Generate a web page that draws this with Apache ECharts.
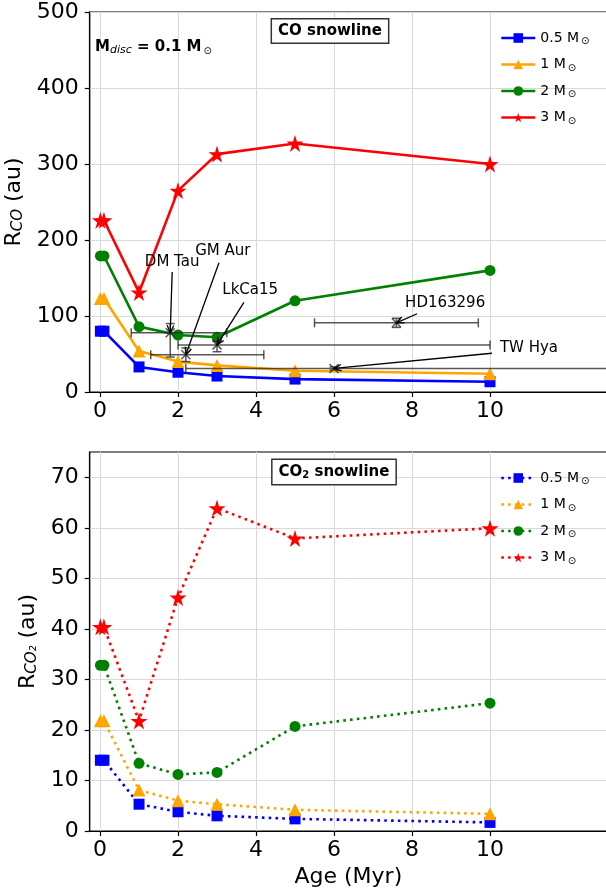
<!DOCTYPE html>
<html><head><meta charset="utf-8">
<script src="https://cdn.jsdelivr.net/npm/echarts@6/dist/echarts.min.js"></script>
<style>html,body{margin:0;padding:0;background:#fff}#c{width:606px;height:893px}</style>
</head><body><div id="c"></div>
<script>
// ---------- data ----------
const ages = [0.01, 0.1, 1, 2, 3, 5, 10];
const massLabels = ['0.5', '1', '2', '3'];
const coR05 = [80, 80, 33, 26, 21, 17, 13.5];
const coR1 = [123, 123, 54, 40, 35, 28, 24];
const coR2 = [179, 179, 86, 75, 72, 120, 160];
const coR3 = [226, 226, 131, 265, 313, 327, 300];
const co2R05 = [14, 14, 5.3, 3.8, 3.0, 2.4, 1.7];
const co2R1 = [21.8, 21.8, 8.1, 6.0, 5.3, 4.2, 3.4];
const co2R2 = [32.8, 32.8, 13.4, 11.2, 11.6, 20.7, 25.3];
const co2R3 = [40.4, 40.4, 21.8, 46.2, 63.9, 57.9, 59.9];
const obsNames = ['DM Tau', 'GM Aur', 'LkCa15', 'HD163296', 'TW Hya'];
const obsAge = [1.8, 2.2, 3.0, 7.6, 6.0];
const obsAgeLo = [0.8, 1.3, 2.0, 5.5, 2.2];
const obsAgeHi = [3.25, 4.2, 10, 9.7, 20];
const obsR = [78, 49, 62, 91, 31];
const obsRLo = [46, 40, 53, 85, 29];
const obsRHi = [90, 58, 67, 97, 33];
const labelX = [1.85, 3.15, 3.85, 8.85, 11.0];
const labelY = [171, 186, 134, 117, 58];
const arrowFromX = [1.85, 3.05, 3.69, 8.13, 10.05];
const arrowFromY = [158, 170, 118, 103, 51];
const xTicks = [0, 2, 4, 6, 8, 10];
const coTicks = [0, 100, 200, 300, 400, 500];
const co2Ticks = [0, 10, 20, 30, 40, 50, 60, 70];

// ---------- styling ----------
const FF = 'DejaVu Sans';
const colors = ['#0000ff', '#ffa500', '#008000', '#ff0000'];
const star = 'path://M50,0 L61,35 L98,35 L68,57 L79,91 L50,70 L21,91 L32,57 L2,35 L39,35 Z';
const symbols = ['rect', 'triangle', 'circle', star];
const sizes = [11, 13, 11, 17];
const coSets = [coR05, coR1, coR2, coR3];
const co2Sets = [co2R05, co2R1, co2R2, co2R3];
const gridColor = '#d9d9d9';

function pairs(ys) { return ages.map((a, i) => [a, ys[i]]); }

const series = [];
// vertical grid lines at the x ticks (both panels)
[0, 1].forEach(gi => series.push({
  type: 'custom', xAxisIndex: gi, yAxisIndex: gi, z: 1, silent: true,
  data: xTicks.map(v => [v]), encode: { x: 0 },
  renderItem: function (params, api) {
    const cs = params.coordSys;
    const px = Math.round(api.coord([api.value(0), 0])[0]) + 0.5;
    return { type: 'line', shape: { x1: px, y1: cs.y, x2: px, y2: cs.y + cs.height }, style: { stroke: gridColor, lineWidth: 1 } };
  }
}));
coSets.forEach((ys, k) => series.push({
  name: 'co-' + k, type: 'line', xAxisIndex: 0, yAxisIndex: 0, data: pairs(ys),
  symbol: symbols[k], symbolSize: sizes[k], showAllSymbol: true,
  lineStyle: { color: colors[k], width: 2.6 }, itemStyle: { color: colors[k] }, z: 3
}));
co2Sets.forEach((ys, k) => series.push({
  name: 'co2-' + k, type: 'line', xAxisIndex: 1, yAxisIndex: 1, data: pairs(ys),
  symbol: symbols[k], symbolSize: sizes[k], showAllSymbol: true,
  lineStyle: { color: colors[k], width: 2.6, type: [2.6, 4.2] }, itemStyle: { color: colors[k] }, z: 3
}));

// error bars + x markers
series.push({
  type: 'custom', xAxisIndex: 0, yAxisIndex: 0, clip: true, z: 4, silent: true,
  data: obsAge.map((a, i) => [a, obsAgeLo[i], obsAgeHi[i], obsR[i], obsRLo[i], obsRHi[i]]),
  encode: { x: 0, y: 3 },
  renderItem: function (params, api) {
    const x = api.value(0), xl = api.value(1), xh = api.value(2), y = api.value(3), yl = api.value(4), yh = api.value(5);
    const c = api.coord([x, y]), l = api.coord([xl, y]), h = api.coord([xh, y]), b = api.coord([x, yl]), t = api.coord([x, yh]);
    const cap = 4.5, m = 4.5;
    const st = { stroke: 'rgba(45,45,45,0.8)', lineWidth: 1.5 };
    const segs = [
      [l, h], [[l[0], l[1] - cap], [l[0], l[1] + cap]], [[h[0], h[1] - cap], [h[0], h[1] + cap]],
      [b, t], [[b[0] - cap, b[1]], [b[0] + cap, b[1]]], [[t[0] - cap, t[1]], [t[0] + cap, t[1]]],
      [[c[0] - m, c[1] - m], [c[0] + m, c[1] + m]], [[c[0] - m, c[1] + m], [c[0] + m, c[1] - m]]
    ];
    return { type: 'group', children: segs.map(p => ({ type: 'line', shape: { x1: p[0][0], y1: p[0][1], x2: p[1][0], y2: p[1][1] }, style: st })) };
  }
});
// arrows
series.push({
  type: 'custom', xAxisIndex: 0, yAxisIndex: 0, z: 5, silent: true,
  data: obsAge.map((a, i) => [arrowFromX[i], arrowFromY[i], a, obsR[i]]),
  encode: { x: 0, y: 1 },
  renderItem: function (params, api) {
    const a = api.coord([api.value(0), api.value(1)]), b = api.coord([api.value(2), api.value(3)]);
    const ang = Math.atan2(b[1] - a[1], b[0] - a[0]);
    const L = 8, s = 0.42;
    const p1 = [b[0] - L * Math.cos(ang - s), b[1] - L * Math.sin(ang - s)];
    const p2 = [b[0] - L * Math.cos(ang + s), b[1] - L * Math.sin(ang + s)];
    const st = { stroke: '#000', lineWidth: 1.3, fill: null };
    return { type: 'group', children: [
      { type: 'line', shape: { x1: a[0], y1: a[1], x2: b[0], y2: b[1] }, style: st },
      { type: 'polyline', shape: { points: [p1, b, p2] }, style: st }
    ] };
  }
});
// annotation texts
series.push({
  type: 'custom', xAxisIndex: 0, yAxisIndex: 0, z: 6, silent: true,
  data: labelX.map((x, i) => [x, labelY[i], i]),
  encode: { x: 0, y: 1 },
  renderItem: function (params, api) {
    const p = api.coord([api.value(0), api.value(1)]);
    return { type: 'text', x: p[0], y: p[1], style: { text: obsNames[api.value(2)], font: '15px ' + FF, fill: '#000', align: 'center', verticalAlign: 'middle' } };
  }
});

const legendRich = {
  a: { fontSize: 14, fontFamily: FF, color: '#000' },
  s: { fontSize: 10, fontFamily: FF, color: '#000', verticalAlign: 'bottom', padding: [7, 0, 0, 2] }
};
function legendFmt(name) { return '{a|' + massLabels[+name.split('-')[1]] + ' M}{s|⊙}'; }

const axisCommonX = (gi) => ({
  gridIndex: gi, type: 'value', min: -0.265, max: 13,
  axisLine: { show: true, onZero: false, lineStyle: { color: '#000', width: 1.2 } },
  axisTick: { show: true, customValues: xTicks, length: 5, lineStyle: { color: '#000', width: 1.2 } },
  axisLabel: { customValues: xTicks, fontSize: 22, fontFamily: FF, color: '#000', margin: 8 },
  splitLine: { show: false }
});
const yName = (sub) => ({
  name: '{r|R}{s|' + sub + '}{r| (au)}', nameLocation: 'middle', nameRotate: 90,
  nameTextStyle: { rich: {
    r: { fontSize: 22, fontFamily: FF, color: '#000' },
    s: { fontSize: 15, fontStyle: 'italic', fontFamily: FF, color: '#000', verticalAlign: 'bottom', padding: [9, 0, 0, 0] }
  } }
});
const axisCommonY = (gi, max, interval, ticks) => ({
  gridIndex: gi, type: 'value', min: 0, max: max, interval: interval,
  axisLine: { show: true, onZero: false, lineStyle: { color: '#000', width: 1.2 } },
  axisTick: { show: true, customValues: ticks, length: 5, lineStyle: { color: '#000', width: 1.2 } },
  axisLabel: { customValues: ticks, fontSize: 22, fontFamily: FF, color: '#000', margin: 11 },
  splitLine: { show: true, lineStyle: { color: gridColor, width: 1 } }
});

const option = {
  animation: false,
  backgroundColor: '#fff',
  grid: [
    { left: 89.7, right: -1, top: 12, height: 380, containLabel: false, outerBoundsMode: 'none', show: true, borderColor: '#000', borderWidth: 1.2, backgroundColor: 'transparent' },
    { left: 89.7, right: -1, top: 452, height: 379, containLabel: false, outerBoundsMode: 'none', show: true, borderColor: '#000', borderWidth: 1.2, backgroundColor: 'transparent' }
  ],
  xAxis: [
    axisCommonX(0),
    Object.assign(axisCommonX(1), { name: 'Age (Myr)', nameLocation: 'middle', nameGap: 35, nameTextStyle: { fontSize: 22, fontFamily: FF, color: '#000' } })
  ],
  yAxis: [
    Object.assign(axisCommonY(0, 500, 100, coTicks), yName('CO'), { nameGap: 55 }),
    Object.assign(axisCommonY(1, 75, 10, co2Ticks), yName('CO₂'), { nameGap: 48 })
  ],
  legend: [
    { data: massLabels.map((m, k) => 'co-' + k), orient: 'vertical', left: 495, top: 26, itemWidth: 34, itemHeight: 12, itemGap: 11,
      formatter: legendFmt, textStyle: { rich: legendRich }, selectedMode: false, lineStyle: { width: 2.6 } },
    { data: massLabels.map((m, k) => 'co2-' + k), orient: 'vertical', left: 495, top: 466, itemWidth: 34, itemHeight: 12, itemGap: 11,
      formatter: legendFmt, textStyle: { rich: legendRich }, selectedMode: false, lineStyle: { width: 2.6 } }
  ],
  graphic: [
    { type: 'text', x: 330, y: 31, z: 10, style: { text: 'CO snowline', font: 'bold 15px ' + FF, fill: '#000', align: 'center', verticalAlign: 'middle',
      backgroundColor: '#fff', borderColor: '#333', borderWidth: 1.5, padding: [4, 6] } },
    { type: 'text', x: 334, y: 472, z: 10, style: { text: '{b|CO}{s|2}{b| snowline}', align: 'center', verticalAlign: 'middle',
      rich: { b: { font: 'bold 15px ' + FF, fill: '#000' }, s: { font: 'bold 10px ' + FF, fill: '#000', verticalAlign: 'bottom', padding: [6, 0, 0, 0] } },
      backgroundColor: '#fff', borderColor: '#333', borderWidth: 1.5, padding: [4, 6] } },
    { type: 'text', x: 95, y: 47, z: 10, style: { text: '{b|M}{i|disc}{b| = 0.1 M}{o|⊙}', align: 'left', verticalAlign: 'middle',
      rich: { b: { font: 'bold 15px ' + FF, fill: '#000' }, i: { font: 'italic 11px ' + FF, fill: '#000', verticalAlign: 'bottom', padding: [7, 0, 0, 0] },
        o: { font: '10px ' + FF, fill: '#000', verticalAlign: 'bottom', padding: [7, 0, 0, 2] } } } }
  ],
  series: series
};
const chart = echarts.init(document.getElementById('c'), null, { renderer: 'canvas' });
chart.setOption(option);
</script>
</body></html>
